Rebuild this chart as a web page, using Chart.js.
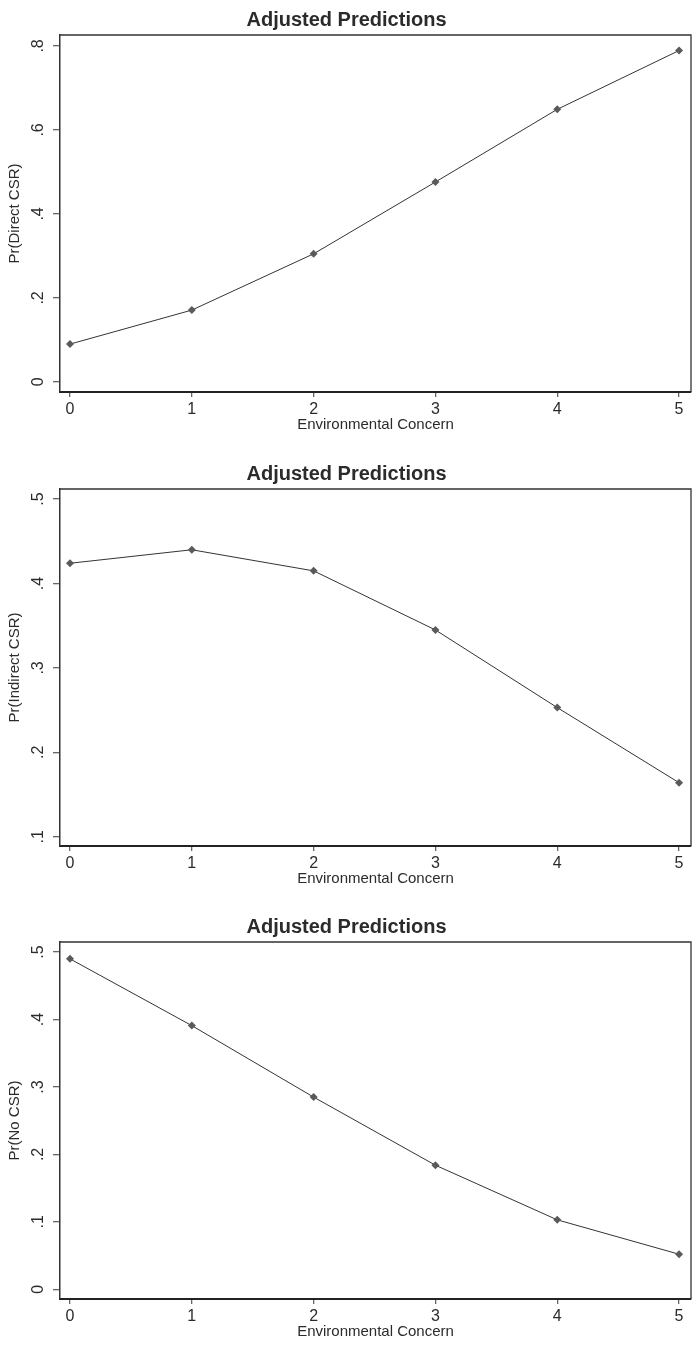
<!DOCTYPE html>
<html>
<head>
<meta charset="utf-8">
<script src="https://cdn.jsdelivr.net/npm/chart.js@4/dist/chart.umd.min.js"></script>
<style>
  body { margin: 0; background: #fff; width: 695px; height: 1353px; overflow: hidden; position: relative; }
  .box { position: absolute; left: 0; width: 695px; height: 451px; }
</style>
</head>
<body>
<div class="box" style="top:0px"><canvas id="c1" width="695" height="451"></canvas></div>
<div class="box" style="top:454px"><canvas id="c2" width="695" height="451"></canvas></div>
<div class="box" style="top:907px"><canvas id="c3" width="695" height="451"></canvas></div>
<script>
// x = environmental concern level
const concern = [0, 1, 2, 3, 4, 5];
const xTicks = [0, 1, 2, 3, 4, 5];

// predicted probabilities
const directCSR = [0.090, 0.171, 0.305, 0.476, 0.649, 0.789];
const indirectCSR = [0.424, 0.440, 0.415, 0.345, 0.253, 0.164];
const noCSR = [0.490, 0.391, 0.285, 0.184, 0.103, 0.052];

// y tick labels per panel
const directTicks = [0, 0.2, 0.4, 0.6, 0.8];
const indirectTicks = [0.1, 0.2, 0.3, 0.4, 0.5];
const noTicks = [0, 0.1, 0.2, 0.3, 0.4, 0.5];

const FONT = "'Liberation Sans', Arial, sans-serif";
const INK = "#2b2b2b";

// top + right border of the plot region (Stata style box)
const framePlugin = {
  id: "frame",
  afterDraw(chart) {
    const { ctx, chartArea: a } = chart;
    ctx.save();
    ctx.strokeStyle = "#333";
    ctx.lineWidth = 1.3;
    ctx.beginPath();
    ctx.moveTo(a.left, a.top);
    ctx.lineTo(a.right, a.top);
    ctx.lineTo(a.right, a.bottom);
    ctx.stroke();
    ctx.restore();
  }
};

function fmt(v) {
  if (v === 0) return "0";
  return String(+v.toFixed(2)).replace(/^0/, "");
}

function makeChart(id, values, yTitle, yTicks, yMin, yMax) {
  return new Chart(document.getElementById(id), {
    type: "line",
    data: {
      datasets: [{
        data: concern.map((x, i) => ({ x: x, y: values[i] })),
        borderColor: "#333",
        borderWidth: 1,
        pointStyle: "rectRot",
        pointRadius: 4,
        pointBackgroundColor: "#5a5a5a",
        pointBorderColor: "#5a5a5a",
        pointBorderWidth: 0,
        tension: 0
      }]
    },
    options: {
      responsive: false,
      animation: false,
      events: [],
      layout: { padding: { top: 0, right: 2, bottom: 0, left: 0 } },
      plugins: {
        legend: { display: false },
        tooltip: { enabled: false },
        title: {
          display: true,
          text: "Adjusted Predictions",
          color: INK,
          font: { family: FONT, size: 20, weight: "bold" },
          padding: { top: 8, bottom: 3 }
        }
      },
      scales: {
        x: {
          type: "linear",
          min: -0.082,
          max: 5.098,
          afterFit: s => { s.height = 59; },
          afterBuildTicks: s => { s.ticks = xTicks.map(v => ({ value: v })); },
          grid: { drawOnChartArea: false, drawTicks: true, tickLength: 5, color: "#666", lineWidth: 1.3 },
          border: { display: true, color: "#222", width: 2 },
          ticks: { color: INK, padding: 3, font: { family: FONT, size: 16 }, maxRotation: 0 },
          title: {
            display: true,
            text: "Environmental Concern",
            color: INK,
            font: { family: FONT, size: 15 },
            padding: { top: 0, bottom: 17 }
          }
        },
        y: {
          min: yMin,
          max: yMax,
          afterFit: s => { s.width = 60; },
          afterBuildTicks: s => { s.ticks = yTicks.map(v => ({ value: v })); },
          grid: { drawOnChartArea: false, drawTicks: true, tickLength: 7, color: "#666", lineWidth: 1.3 },
          border: { display: true, color: "#333", width: 1.5 },
          ticks: {
            color: INK,
            padding: 8,
            crossAlign: "center",
            minRotation: 90,
            maxRotation: 90,
            font: { family: FONT, size: 16 },
            callback: v => fmt(v)
          },
          title: {
            display: true,
            text: yTitle,
            color: INK,
            font: { family: FONT, size: 15 },
            padding: { top: 6, bottom: 0 }
          }
        }
      }
    },
    plugins: [framePlugin]
  });
}

makeChart("c1", directCSR, "Pr(Direct CSR)", directTicks, -0.024, 0.826);
makeChart("c2", indirectCSR, "Pr(Indirect CSR)", indirectTicks, 0.089, 0.512);
makeChart("c3", noCSR, "Pr(No CSR)", noTicks, -0.0144, 0.515);
</script>
</body>
</html>
